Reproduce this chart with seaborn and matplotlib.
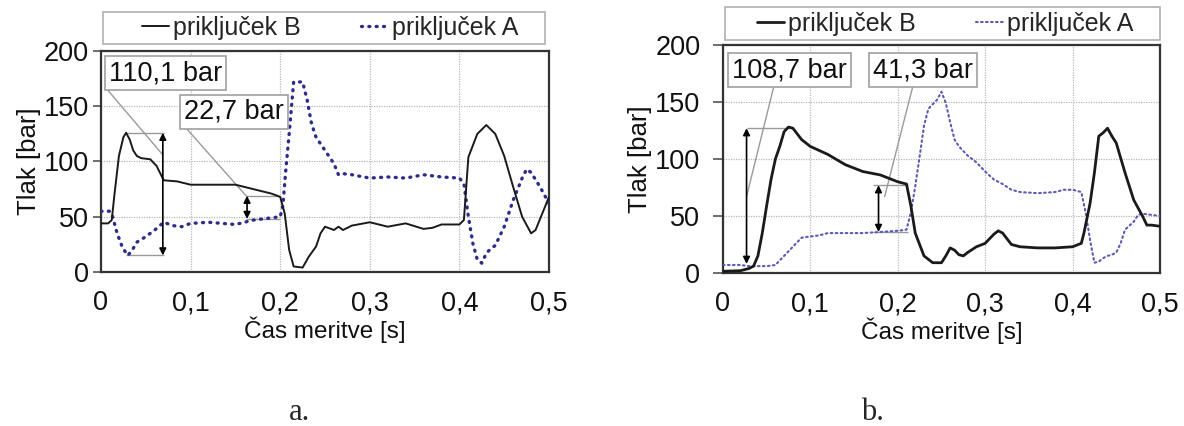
import pandas as pd
import matplotlib.pyplot as plt
import matplotlib.patches as mpatches
import seaborn as sns

sns.set_theme(style="white")
plt.rcParams["font.family"] = ["Liberation Sans", "DejaVu Sans"]

# --- a. panel ---
t_b_a = [0, 0.008, 0.012, 0.015, 0.02, 0.025, 0.028, 0.032, 0.036, 0.04, 0.045, 0.055, 0.062, 0.07,
         0.085, 0.1, 0.12, 0.15, 0.17, 0.19, 0.2, 0.205, 0.21, 0.215, 0.225, 0.232, 0.24, 0.245, 0.25,
         0.26, 0.265, 0.27, 0.28, 0.3, 0.32, 0.34, 0.36, 0.37, 0.38, 0.4, 0.405, 0.41, 0.42, 0.43, 0.44,
         0.45, 0.46, 0.47, 0.48, 0.485, 0.49, 0.5]
p_b_a = [44, 44, 47, 70, 105, 122, 126, 120, 110, 105, 103, 102, 96, 83,
         82, 79, 79, 79, 75, 71, 68, 53, 20, 5, 4, 14, 23, 35, 41,
         38, 41, 38, 42, 45, 41, 44, 39, 40, 43, 43, 47, 104, 125, 133, 125,
         105, 77, 50, 35, 38, 48, 68]
t_a_a = [0, 0.01, 0.013, 0.018, 0.024, 0.03, 0.035, 0.04, 0.05, 0.06, 0.07, 0.08, 0.09, 0.1, 0.12,
         0.15, 0.17, 0.19, 0.2, 0.203, 0.206, 0.21, 0.215, 0.225, 0.23, 0.235, 0.24, 0.25, 0.26, 0.265,
         0.27, 0.28, 0.3, 0.32, 0.34, 0.36, 0.38, 0.4, 0.405, 0.41, 0.415, 0.42, 0.425, 0.43, 0.435,
         0.44, 0.45, 0.46, 0.47, 0.475, 0.48, 0.49, 0.5]
p_a_a = [55, 55, 50, 35, 22, 15, 20, 27, 32, 38, 45, 42, 41, 44, 45,
         43, 47, 49, 50, 60, 90, 125, 172, 172, 156, 134, 122, 110, 98, 88,
         89, 88, 85, 86, 85, 88, 86, 85, 80, 50, 26, 11, 8, 17, 21,
         24, 41, 65, 85, 93, 90, 77, 62]

# --- b. panel ---
t_b_b = [0, 0.02, 0.03, 0.035, 0.04, 0.045, 0.05, 0.055, 0.06, 0.065, 0.07, 0.075, 0.08, 0.09, 0.1,
         0.12, 0.14, 0.16, 0.18, 0.2, 0.21, 0.215, 0.22, 0.23, 0.24, 0.25, 0.255, 0.26, 0.265, 0.27,
         0.275, 0.28, 0.29, 0.3, 0.31, 0.315, 0.32, 0.33, 0.34, 0.36, 0.38, 0.4, 0.41, 0.413, 0.42,
         0.425, 0.43, 0.435, 0.44, 0.445, 0.45, 0.46, 0.47, 0.48, 0.485, 0.49, 0.5]
p_b_b = [1.5, 2, 4, 6, 15, 35, 59, 82, 100, 111, 124, 128, 127, 117, 111,
         104, 95, 89, 86, 80, 78, 59, 35, 15, 9, 9, 15, 22, 20, 16,
         15, 18, 23, 26, 34, 37, 35, 25, 23, 22, 22, 23, 26, 35, 61,
         88, 120, 123, 127, 120, 114, 88, 64, 50, 42, 42, 41]
t_a_b = [0, 0.02, 0.03, 0.05, 0.06, 0.07, 0.08, 0.09, 0.1, 0.11, 0.12, 0.14, 0.16, 0.18, 0.2,
         0.21, 0.215, 0.22, 0.225, 0.23, 0.235, 0.24, 0.245, 0.25, 0.255, 0.26, 0.265, 0.27, 0.28,
         0.29, 0.3, 0.31, 0.32, 0.33, 0.34, 0.36, 0.38, 0.39, 0.4, 0.41, 0.415, 0.42, 0.425, 0.43,
         0.435, 0.44, 0.445, 0.45, 0.455, 0.46, 0.47, 0.475, 0.48, 0.49, 0.5]
p_a_b = [7, 7, 6, 6, 7, 15, 23, 31, 32, 33, 35, 35, 35, 36, 37,
         38, 53, 76, 102, 129, 144, 148, 152, 159, 149, 132, 117, 111, 103,
         97, 89, 82, 78, 73, 71, 70, 71, 73, 73, 71, 53, 29, 9, 10,
         13, 15, 16, 18, 26, 38, 45, 51, 52, 51, 50]

# annotations: (arrow x, top, bottom, guide x0, guide x1, label, label x, label y, leader from, leader to)
notes_a = [(0.069, 126, 15, 0.028, 0.07, "110,1 bar", 0.072, 180, (0.005, 167), (0.069, 106)),
           (0.163, 69, 48, 0.162, 0.2, "22,7 bar", 0.148, 145, (0.093, 132), (0.163, 68))]
notes_b = [(0.027, 127, 8, 0.027, 0.077, "108,7 bar", 0.0765, 178, (0.058, 163), (0.027, 67)),
           (0.178, 77, 36, 0.172, 0.212, "41,3 bar", 0.229, 178, (0.217, 163), (0.185, 67))]

x_ticks = [0, 0.1, 0.2, 0.3, 0.4, 0.5]
x_tick_labels = ["0", "0,1", "0,2", "0,3", "0,4", "0,5"]
y_ticks = [0, 50, 100, 150, 200]

fig = plt.figure(figsize=(11.84, 4.26), dpi=100)
ax1 = fig.add_axes([0.0853, 0.3615, 0.3784, 0.5188])
ax2 = fig.add_axes([0.6106, 0.3592, 0.3691, 0.5352])

panels = [
    (ax1, t_b_a, p_b_a, t_a_a, p_a_a, notes_a, dict(lw_b=1.4, lw_a=2.4, col_a="#2c2c8c", dots=(0.3, 1.9)),
     (0.0045, 1.0317, 0.9865, 0.1448), (0.511, 1.104), 5.8, 3),
    (ax2, t_b_b, p_b_b, t_a_b, p_a_b, notes_b, dict(lw_b=2.0, lw_a=1.5, col_a="#5a5ab4", dots=(0.8, 1.6)),
     (0.0046, 1.022, 0.995, 0.1447), (0.508, 1.094), 7.2, 9),
]

for ax, tb, pb, ta, pa, notes, st, rect, leg_xy, tick_len, tick_pad in panels:
    df_b = pd.DataFrame({"t": tb, "p": pb})
    df_a = pd.DataFrame({"t": ta, "p": pa})
    sns.lineplot(data=df_b, x="t", y="p", ax=ax, color="#1a1a1a", lw=st["lw_b"],
                 label="priključek B", estimator=None, sort=False, zorder=4)
    sns.lineplot(data=df_a, x="t", y="p", ax=ax, color=st["col_a"], lw=st["lw_a"],
                 label="priključek A", estimator=None, sort=False, zorder=3,
                 linestyle=(0, st["dots"]), dash_capstyle="round")

    for ax_x, top, bot, gx0, gx1, lab, lx, ly, lf, lt in notes:
        ax.hlines(top, gx0, gx1, color="#999999", lw=1.0, zorder=2)
        if gx0 < ax_x:
            ax.hlines(bot, gx0, gx1, color="#999999", lw=1.0, zorder=2)
        ax.annotate("", xy=(ax_x, bot), xytext=(ax_x, top),
                    arrowprops=dict(arrowstyle="<|-|>", color="black", lw=1.2,
                                    mutation_scale=10, shrinkA=0, shrinkB=0), zorder=5)
        ax.plot([lf[0], lt[0]], [lf[1], lt[1]], color="#9a9a9a", lw=1.0, zorder=2)
        ax.text(lx, ly, lab, ha="center", va="center", fontsize=19.5, color="#111111", zorder=6,
                bbox=dict(boxstyle="square,pad=0.15", fc="white", ec="#a0a0a0", lw=1.2))

    ax.set_xlim(0, 0.5)
    ax.set_ylim(0, 200)
    ax.set_xticks(x_ticks)
    ax.set_xticklabels(x_tick_labels)
    ax.set_yticks(y_ticks)
    ax.grid(True, color="#b8b8b8", linestyle=(0, (1, 1)), lw=0.9)
    ax.set_axisbelow(True)
    for sp in ax.spines.values():
        sp.set_color("#333333")
        sp.set_linewidth(1.6)
    ax.tick_params(axis="x", length=0, pad=13, labelsize=19.5, colors="#111111")
    ax.tick_params(axis="y", left=True, length=tick_len, width=1.2, color="#555555",
                   pad=tick_pad, labelsize=19.5, labelcolor="#111111")
    ax.set_xlabel("Čas meritve [s]", fontsize=17.5, labelpad=0, color="#111111")
    ax.set_ylabel("Tlak [bar]", fontsize=18.5, labelpad=2, color="#111111")

    ax.add_patch(mpatches.Rectangle((rect[0], rect[1]), rect[2], rect[3], transform=ax.transAxes,
                                    fill=False, ec="#b0b0b0", lw=1.2, clip_on=False))
    ax.legend(loc="center", bbox_to_anchor=leg_xy, ncol=2, frameon=False, fontsize=18,
              handlelength=1.1, handletextpad=0.15, columnspacing=2.4, borderaxespad=0)

fig.text(300 / 1184, 1 - 412 / 426, "a.", family=["Liberation Serif", "DejaVu Serif"],
         fontsize=22, ha="center", va="center")
fig.text(872 / 1184, 1 - 412 / 426, "b.", family=["Liberation Serif", "DejaVu Serif"],
         fontsize=22, ha="center", va="center")

fig.savefig("out.png", dpi=100)
